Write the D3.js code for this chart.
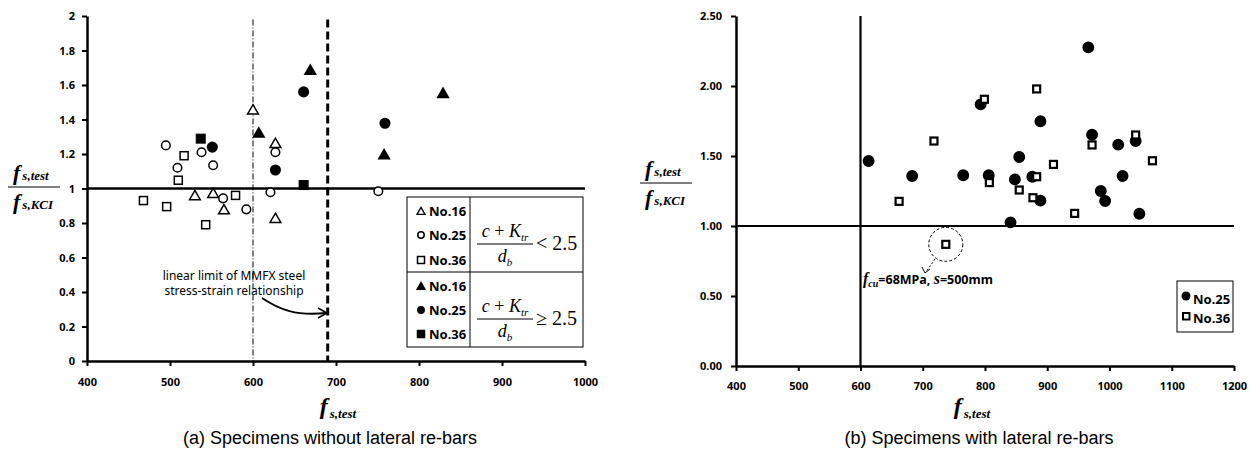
<!DOCTYPE html>
<html>
<head>
<meta charset="utf-8">
<script src="https://cdn.jsdelivr.net/npm/d3@7"></script>
<style>
  body { margin: 0; background: #fff; }
  svg { display: block; }
  .tick text { font-family: "Noto Sans", sans-serif; font-weight: bold; font-size: 11px; }
  .math { font-family: "Liberation Serif", serif; font-style: italic; font-weight: bold; }
</style>
</head>
<body>
<div id="plot"></div>
<script>
// left panel: [f_s,test, ratio] per bar size, open = (c+Ktr)/db < 2.5, filled = >= 2.5
var leftOpen16 = [[600,1.45],[627,1.256],[530,0.953],[552,0.966],[565,0.871],[627,0.821]];
var leftOpen25 = [[495,1.25],[509,1.12],[538,1.21],[552,1.135],[627,1.21],[621,0.978],[751,0.984],[564,0.943],[592,0.879]];
var leftOpen36 = [[517,1.19],[510,1.048],[468,0.93],[496,0.895],[543,0.79],[579,0.96]];
var leftFill16 = [[669,1.68],[607,1.316],[829,1.546],[758,1.19]];
var leftFill25 = [[661,1.56],[551,1.24],[627,1.107],[759,1.378]];
var leftFill36 = [[537,1.289],[661,1.02]];

// right panel
var rightNo25 = [[613,1.464],[683,1.357],[966,2.276],[793,1.869],[889,1.748],[972,1.652],[1014,1.581],
                 [1042,1.607],[855,1.493],[765,1.362],[806,1.362],[848,1.333],[876,1.352],[889,1.181],
                 [1021,1.357],[986,1.25],[993,1.179],[1048,1.088],[841,1.026]];
var rightNo36 = [[662,1.176],[718,1.607],[883,1.979],[799,1.905],[972,1.579],[1042,1.65],[1069,1.466],
                 [910,1.44],[807,1.31],[883,1.352],[855,1.257],[877,1.202],[944,1.09],[737,0.869]];

var leftXTicks = [400,500,600,700,800,900,1000];
var leftYTicks = [0,0.2,0.4,0.6,0.8,1,1.2,1.4,1.6,1.8,2];
var rightXTicks = [400,500,600,700,800,900,1000,1100,1200];
var rightYTicks = [0,0.5,1,1.5,2,2.5];

var width = 1252, height = 457;
var svg = d3.select("#plot").append("svg")
    .attr("width", width)
    .attr("height", height);

var xL = d3.scaleLinear().domain([400,1000]).range([87,585]),
    yL = d3.scaleLinear().domain([0,2]).range([361,16]);
var xR = d3.scaleLinear().domain([400,1200]).range([736,1234]),
    yR = d3.scaleLinear().domain([0,2.5]).range([366,16]);

function styleAxis(g) {
  g.select(".domain").attr("stroke-width", 2.5);
  g.selectAll(".tick line").attr("stroke-width", 2);
}

// ---------- left panel ----------
svg.append("g")
    .attr("transform", "translate(0," + yL(0) + ")")
    .call(d3.axisBottom(xL).tickValues(leftXTicks).tickSize(5).tickSizeOuter(0).tickPadding(12).tickFormat(d3.format("d")))
    .call(styleAxis);
svg.append("g")
    .attr("transform", "translate(" + xL(400) + ",0)")
    .call(d3.axisLeft(yL).tickValues(leftYTicks).tickSize(5).tickSizeOuter(0).tickPadding(7).tickFormat(d3.format("~g")))
    .call(styleAxis);

// reference lines
svg.append("line")
    .attr("x1", xL(400)).attr("x2", xL(1000))
    .attr("y1", yL(1)).attr("y2", yL(1))
    .attr("stroke", "#000").attr("stroke-width", 2.5);
svg.append("line")
    .attr("x1", xL(600)).attr("x2", xL(600))
    .attr("y1", yL(1.98)).attr("y2", yL(0))
    .attr("stroke", "#000").attr("stroke-width", 1)
    .attr("stroke-dasharray", "6,2,1,2");
svg.append("line")
    .attr("x1", xL(690)).attr("x2", xL(690))
    .attr("y1", yL(1.98)).attr("y2", yL(0))
    .attr("stroke", "#000").attr("stroke-width", 3)
    .attr("stroke-dasharray", "8,4");

var tri = d3.symbol().type(d3.symbolTriangle);

function drawTri(g, data, x, y, filled, size) {
  g.selectAll(null).data(data).enter().append("path")
      .attr("d", tri.size(size)())
      .attr("transform", function(d) { return "translate(" + x(d[0]) + "," + y(d[1]) + ")"; })
      .attr("fill", filled ? "#000" : "#fff")
      .attr("stroke", "#000").attr("stroke-width", 1.5);
}
function drawCirc(g, data, x, y, filled, r) {
  g.selectAll(null).data(data).enter().append("circle")
      .attr("cx", function(d) { return x(d[0]); })
      .attr("cy", function(d) { return y(d[1]); })
      .attr("r", r)
      .attr("fill", filled ? "#000" : "#fff")
      .attr("stroke", "#000").attr("stroke-width", 1.5);
}
function drawSq(g, data, x, y, filled, s, sw) {
  g.selectAll(null).data(data).enter().append("rect")
      .attr("x", function(d) { return x(d[0]) - s/2; })
      .attr("y", function(d) { return y(d[1]) - s/2; })
      .attr("width", s).attr("height", s)
      .attr("fill", filled ? "#000" : "#fff")
      .attr("stroke", "#000").attr("stroke-width", sw);
}

var gl = svg.append("g");
drawTri(gl, leftOpen16, xL, yL, false, 50);
drawCirc(gl, leftOpen25, xL, yL, false, 4.3);
drawSq(gl, leftOpen36, xL, yL, false, 8, 1.5);
drawTri(gl, leftFill16, xL, yL, true, 50);
drawCirc(gl, leftFill25, xL, yL, true, 4.8);
drawSq(gl, leftFill36, xL, yL, true, 9, 1);

// annotation
var ann = svg.append("text")
    .attr("font-family", "Noto Sans, sans-serif")
    .attr("font-size", 12)
    .attr("text-anchor", "middle");
ann.append("tspan").attr("x", 234).attr("y", 280).text("linear limit of MMFX steel");
ann.append("tspan").attr("x", 234).attr("y", 295).text("stress-strain relationship");
svg.append("path")
    .attr("d", "M262,298 C280,310 296,316 326,313")
    .attr("fill", "none").attr("stroke", "#000").attr("stroke-width", 1.8);
svg.append("path")
    .attr("d", "M318,308 L327,313 L318,318")
    .attr("fill", "none").attr("stroke", "#000").attr("stroke-width", 1.5);

// legend table
var lg = svg.append("g");
lg.append("rect").attr("x", 407).attr("y", 197).attr("width", 176).attr("height", 150)
    .attr("fill", "#fff").attr("stroke", "#000").attr("stroke-width", 1);
lg.append("line").attr("x1", 470).attr("x2", 470).attr("y1", 197).attr("y2", 347)
    .attr("stroke", "#000").attr("stroke-width", 1);
lg.append("line").attr("x1", 407).attr("x2", 583).attr("y1", 272).attr("y2", 272)
    .attr("stroke", "#000").attr("stroke-width", 1);

var legRows = ["No.16","No.25","No.36","No.16","No.25","No.36"];
var legY = [211,235,260,286,310,334];
legRows.forEach(function(t, i) {
  var cy = legY[i], filled = i >= 3, k = i % 3;
  if (k === 0) {
    lg.append("path").attr("d", tri.size(28)()).attr("transform", "translate(421," + (cy + 1) + ")")
      .attr("fill", filled ? "#000" : "#fff").attr("stroke", "#000").attr("stroke-width", 1.3);
  } else if (k === 1) {
    lg.append("circle").attr("cx", 421).attr("cy", cy).attr("r", 3.2)
      .attr("fill", filled ? "#000" : "#fff").attr("stroke", "#000").attr("stroke-width", 1.5);
  } else {
    lg.append("rect").attr("x", 417.5).attr("y", cy - 3.5).attr("width", 7).attr("height", 7)
      .attr("fill", filled ? "#000" : "#fff").attr("stroke", "#000").attr("stroke-width", 1.5);
  }
  lg.append("text").attr("x", 429).attr("y", cy + 5)
    .attr("font-family", "Noto Sans, sans-serif").attr("font-weight", "bold").attr("font-size", 13)
    .text(t);
});

function formula(y0, rel) {
  var f = lg.append("g").attr("font-family", "Liberation Serif, serif").attr("font-size", 18);
  var num = f.append("text").attr("x", 505).attr("y", y0).attr("text-anchor", "middle");
  num.append("tspan").attr("font-style", "italic").text("c");
  num.append("tspan").text(" + ");
  num.append("tspan").attr("font-style", "italic").text("K");
  num.append("tspan").attr("font-style", "italic").attr("font-size", 11).attr("dy", 4).text("tr");
  f.append("line").attr("x1", 477).attr("x2", 533).attr("y1", y0 + 7).attr("y2", y0 + 7)
    .attr("stroke", "#000").attr("stroke-width", 1);
  var den = f.append("text").attr("x", 505).attr("y", y0 + 25).attr("text-anchor", "middle");
  den.append("tspan").attr("font-style", "italic").text("d");
  den.append("tspan").attr("font-style", "italic").attr("font-size", 11).attr("dy", 4).text("b");
  f.append("text").attr("x", 536).attr("y", y0 + 13).attr("font-size", 20).text(rel + " 2.5");
}
formula(237, "<");
formula(312, "\u2265");

// axis labels
function fracLabel(x0, x1, yLine) {
  var g = svg.append("g").attr("class", "math");
  var n = g.append("text").attr("x", x0 + 5).attr("y", yLine - 7);
  n.append("tspan").attr("font-size", 22).text("f");
  n.append("tspan").attr("font-size", 13).attr("dx", 2).text("s,test");
  g.append("line").attr("x1", x0).attr("x2", x1).attr("y1", yLine).attr("y2", yLine)
    .attr("stroke", "#000").attr("stroke-width", 1.2);
  var d = g.append("text").attr("x", x0 + 5).attr("y", yLine + 22);
  d.append("tspan").attr("font-size", 22).text("f");
  d.append("tspan").attr("font-size", 13).attr("dx", 2).text("s,KCI");
}
fracLabel(8, 60, 187);
fracLabel(640, 692, 183);

function xLabel(cx) {
  var t = svg.append("text").attr("class", "math").attr("x", cx).attr("y", 414).attr("text-anchor", "middle");
  t.append("tspan").attr("font-size", 24).text("f");
  t.append("tspan").attr("font-size", 13).attr("dx", 2).attr("dy", 4).text("s,test");
}
xLabel(338);
xLabel(972);

svg.append("text").attr("x", 330).attr("y", 444).attr("text-anchor", "middle")
    .attr("font-family", "Liberation Sans, Arial, sans-serif").attr("font-size", 18)
    .text("(a) Specimens without lateral re-bars");
svg.append("text").attr("x", 979).attr("y", 444).attr("text-anchor", "middle")
    .attr("font-family", "Liberation Sans, Arial, sans-serif").attr("font-size", 18)
    .text("(b) Specimens with lateral re-bars");

// ---------- right panel ----------
svg.append("g")
    .attr("transform", "translate(0," + yR(0) + ")")
    .call(d3.axisBottom(xR).tickValues(rightXTicks).tickSize(5).tickSizeOuter(0).tickPadding(11).tickFormat(d3.format("d")))
    .call(styleAxis);
svg.append("g")
    .attr("transform", "translate(" + xR(400) + ",0)")
    .call(d3.axisLeft(yR).tickValues(rightYTicks).tickSize(5).tickSizeOuter(0).tickPadding(9).tickFormat(d3.format(".2f")))
    .call(styleAxis);

svg.append("line")
    .attr("x1", xR(400)).attr("x2", xR(1200))
    .attr("y1", yR(1)).attr("y2", yR(1))
    .attr("stroke", "#000").attr("stroke-width", 2.2);
svg.append("line")
    .attr("x1", xR(600)).attr("x2", xR(600))
    .attr("y1", yR(2.5)).attr("y2", yR(0))
    .attr("stroke", "#000").attr("stroke-width", 2.2);

var gr = svg.append("g");
drawCirc(gr, rightNo25, xR, yR, true, 5.2);
drawSq(gr, rightNo36, xR, yR, false, 7, 2.2);

// outlier note
var out = rightNo36[rightNo36.length - 1];
svg.append("circle").attr("cx", xR(out[0])).attr("cy", yR(out[1])).attr("r", 17)
    .attr("fill", "none").attr("stroke", "#000").attr("stroke-width", 1).attr("stroke-dasharray", "3,2");
svg.append("path").attr("d", "M935,259 L926,272")
    .attr("fill", "none").attr("stroke", "#000").attr("stroke-width", 1).attr("stroke-dasharray", "2,2");
svg.append("path").attr("d", "M922,267 L925,273 L930,269")
    .attr("fill", "none").attr("stroke", "#000").attr("stroke-width", 1);
var note = svg.append("text").attr("x", 863).attr("y", 284)
    .attr("font-family", "Noto Sans, sans-serif").attr("font-weight", "bold").attr("font-size", 12.5);
note.append("tspan").attr("class", "math").attr("font-size", 16).text("f");
note.append("tspan").attr("class", "math").attr("font-size", 10).attr("dy", 3).text("cu");
note.append("tspan").attr("dy", -3).text("=68MPa,  ");
note.append("tspan").attr("class", "math").attr("font-size", 16).attr("font-weight", "normal").text("s");
note.append("tspan").text("=500mm");

// right legend
var rl = svg.append("g");
rl.append("rect").attr("x", 1177).attr("y", 281).attr("width", 56).attr("height", 51)
    .attr("fill", "#fff").attr("stroke", "#000").attr("stroke-width", 1);
rl.append("circle").attr("cx", 1186).attr("cy", 296).attr("r", 4.5).attr("fill", "#000");
rl.append("rect").attr("x", 1183).attr("y", 313).attr("width", 6.5).attr("height", 6.5)
    .attr("fill", "#fff").attr("stroke", "#000").attr("stroke-width", 2);
rl.append("text").attr("x", 1193).attr("y", 304)
    .attr("font-family", "Noto Sans, sans-serif").attr("font-weight", "bold").attr("font-size", 13).text("No.25");
rl.append("text").attr("x", 1193).attr("y", 323)
    .attr("font-family", "Noto Sans, sans-serif").attr("font-weight", "bold").attr("font-size", 13).text("No.36");
</script>
</body>
</html>
